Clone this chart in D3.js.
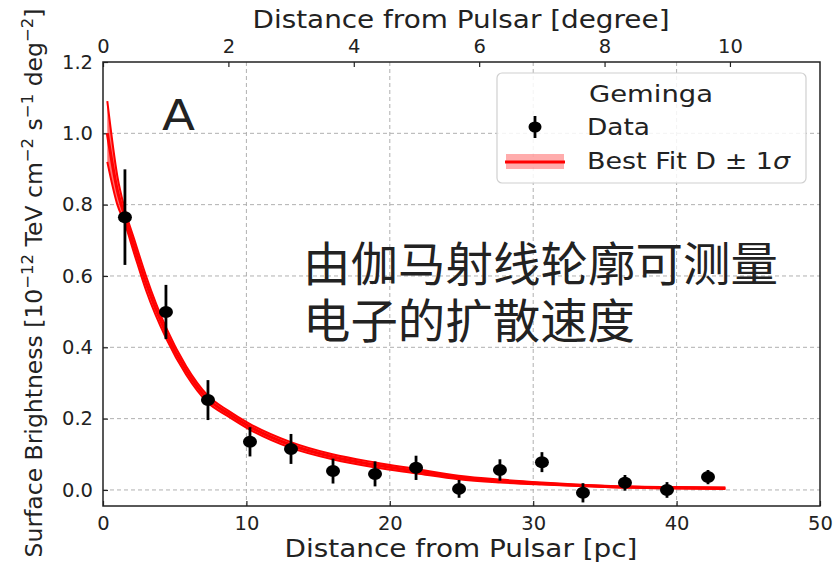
<!DOCTYPE html>
<html lang="en">
    <head>
        <meta charset="utf-8">
        <style>
            body { margin: 0; background: #fff; }
            text { font-family: "DejaVu Sans", sans-serif; fill: #222; }
            .grid line { stroke: #b0b0b0; stroke-dasharray: 4,3; stroke-width: 1; }
        </style>
        <script src="https://d3js.org/d3.v7.min.js"></script>
        <title>Geminga</title>
    </head>
    <body>
        <div id="chart"></div>
        <script>
            // data points: distance [pc], surface brightness, 1 sigma error
            var dataX   = [1.53, 4.39, 7.32, 10.25, 13.11, 16.04, 18.97, 21.83, 24.83, 27.68, 30.61, 33.47, 36.40, 39.33, 42.19];
            var dataY   = [0.765, 0.499, 0.252, 0.135, 0.115, 0.053, 0.045, 0.062, 0.003, 0.056, 0.078, -0.008, 0.020, 0.000, 0.036];
            var dataErr = [0.134, 0.076, 0.056, 0.041, 0.042, 0.035, 0.035, 0.034, 0.025, 0.030, 0.028, 0.027, 0.022, 0.022, 0.020];

            // best fit curve and 1 sigma band
            var fitX  = [0.3, 1.0, 1.5, 2.2, 3.0, 4.4, 5.8, 7.3, 8.7, 10.2, 13.1, 16.0, 19.0, 21.8, 24.8, 27.7, 30.6, 35.0, 40.0, 43.4];
            var fitY  = [1.00, 0.84, 0.77, 0.68, 0.58, 0.44, 0.335, 0.255, 0.215, 0.178, 0.126, 0.093, 0.070, 0.053, 0.035, 0.025, 0.018, 0.010, 0.006, 0.005];
            var fitHi = [1.09, 0.88, 0.79, 0.70, 0.60, 0.455, 0.347, 0.265, 0.223, 0.186, 0.134, 0.100, 0.077, 0.059, 0.040, 0.029, 0.021, 0.012, 0.008, 0.007];
            var fitLo = [0.92, 0.80, 0.75, 0.66, 0.56, 0.425, 0.323, 0.245, 0.207, 0.170, 0.118, 0.086, 0.063, 0.047, 0.030, 0.021, 0.015, 0.008, 0.004, 0.003];

            var xTicks = [0, 10, 20, 30, 40, 50];
            var yTicks = [0, 0.2, 0.4, 0.6, 0.8, 1.0, 1.2];
            var degTicks = [0, 2, 4, 6, 8, 10];
            var pcPerDeg = 4.372;

            var margin = {top: 62, right: 15, bottom: 59, left: 103},
                width = 835 - margin.left - margin.right,
                height = 565 - margin.top - margin.bottom;

            var svg = d3.select("#chart")
                .append("svg")
                    .attr("width", 835)
                    .attr("height", 565)
                .append("g")
                    .attr("transform", "translate(" + margin.left + "," + margin.top + ")");

            var x = d3.scaleLinear().domain([0, 50]).range([0, width]);
            var xDeg = d3.scaleLinear().domain([0, 50 / pcPerDeg]).range([0, width]);
            var y = d3.scaleLinear().domain([-0.045, 1.2]).range([height, 0]);

            // grid
            svg.append("g").attr("class", "grid")
                .selectAll("line").data([10, 20, 30, 40]).enter().append("line")
                    .attr("x1", d => x(d)).attr("x2", d => x(d))
                    .attr("y1", 0).attr("y2", height);
            svg.append("g").attr("class", "grid")
                .selectAll("line").data([0, 0.2, 0.4, 0.6, 0.8, 1.0]).enter().append("line")
                    .attr("x1", 0).attr("x2", width)
                    .attr("y1", d => y(d)).attr("y2", d => y(d));

            // axes
            var xAxis = svg.append("g")
                .attr("transform", "translate(0," + height + ")")
                .call(d3.axisBottom(x).tickValues(xTicks).tickSizeInner(-5).tickSizeOuter(0).tickPadding(10));
            var yAxis = svg.append("g")
                .call(d3.axisLeft(y).tickValues(yTicks).tickFormat(d3.format(".1f")).tickSizeInner(-5).tickSizeOuter(0).tickPadding(10));
            var topAxis = svg.append("g")
                .call(d3.axisTop(xDeg).tickValues(degTicks).tickSizeInner(-5).tickSizeOuter(0).tickPadding(9));

            [xAxis, yAxis, topAxis].forEach(function(a) {
                a.selectAll("text").style("font-size", "19.5px").attr("fill", "#222");
                a.selectAll("line").attr("stroke", "#222").attr("stroke-width", 1.2);
                a.select(".domain").remove();
            });

            svg.append("rect")
                .attr("x", 0).attr("y", 0)
                .attr("width", width).attr("height", height)
                .attr("fill", "none").attr("stroke", "#222").attr("stroke-width", 1.5);

            // fit band
            var pts = fitX.map((d, i) => ({x: d, y: fitY[i], hi: fitHi[i], lo: fitLo[i]}));
            svg.append("path")
                .datum(pts)
                .attr("fill", "#ff3030")
                .attr("fill-opacity", 0.7)
                .attr("d", d3.area().curve(d3.curveMonotoneX)
                    .x(d => x(d.x)).y0(d => y(d.lo)).y1(d => y(d.hi)));
            ["hi", "lo"].forEach(function(k) {
                svg.append("path")
                    .datum(pts)
                    .attr("fill", "none")
                    .attr("stroke", "#ff0000")
                    .attr("stroke-width", 2)
                    .attr("d", d3.line().curve(d3.curveMonotoneX).x(d => x(d.x)).y(d => y(d[k])));
            });
            svg.append("path")
                .datum(pts)
                .attr("fill", "none")
                .attr("stroke", "#ff0000")
                .attr("stroke-width", 3)
                .attr("d", d3.line().curve(d3.curveMonotoneX).x(d => x(d.x)).y(d => y(d.y)));

            // data points with error bars
            var data = dataX.map((d, i) => ({x: d, y: dataY[i], e: dataErr[i]}));
            svg.selectAll(".err")
                .data(data).enter().append("line")
                    .attr("class", "err")
                    .attr("x1", d => x(d.x)).attr("x2", d => x(d.x))
                    .attr("y1", d => y(d.y - d.e)).attr("y2", d => y(d.y + d.e))
                    .attr("stroke", "#000").attr("stroke-width", 2.8);
            svg.selectAll(".pt")
                .data(data).enter().append("ellipse")
                    .attr("class", "pt")
                    .attr("cx", d => x(d.x)).attr("cy", d => y(d.y))
                    .attr("rx", 7).attr("ry", 6)
                    .attr("fill", "#000");

            // panel label
            svg.append("text")
                .attr("x", 59).attr("y", 68)
                .attr("textLength", 33).attr("lengthAdjust", "spacingAndGlyphs")
                .style("font-size", "42px").attr("fill", "#111")
                .text("A");

            // legend
            var lg = svg.append("g").attr("transform", "translate(394,11)");
            lg.append("rect")
                .attr("width", 309).attr("height", 110).attr("rx", 5)
                .attr("fill", "#fff").attr("fill-opacity", 0.85)
                .attr("stroke", "#d0d0d0").attr("stroke-width", 1.2);
            lg.append("text").attr("x", 92).attr("y", 29)
                .attr("textLength", 124).attr("lengthAdjust", "spacingAndGlyphs")
                .style("font-size", "23px").text("Geminga");
            lg.append("line").attr("x1", 38).attr("x2", 38).attr("y1", 43).attr("y2", 65)
                .attr("stroke", "#000").attr("stroke-width", 2.8);
            lg.append("ellipse").attr("cx", 38).attr("cy", 54).attr("rx", 6.5).attr("ry", 5.5).attr("fill", "#000");
            lg.append("text").attr("x", 90).attr("y", 62)
                .attr("textLength", 63).attr("lengthAdjust", "spacingAndGlyphs")
                .style("font-size", "23px").text("Data");
            lg.append("rect").attr("x", 9).attr("y", 81).attr("width", 58).attr("height", 15)
                .attr("fill", "#ff3030").attr("fill-opacity", 0.4);
            lg.append("line").attr("x1", 8).attr("x2", 68).attr("y1", 89).attr("y2", 89)
                .attr("stroke", "#ff0000").attr("stroke-width", 3);
            var bf = lg.append("text").attr("x", 90).attr("y", 96)
                .attr("textLength", 203).attr("lengthAdjust", "spacingAndGlyphs")
                .style("font-size", "23px");
            bf.append("tspan").text("Best Fit D \u00b1 1");
            bf.append("tspan").style("font-style", "italic").text("\u03c3");

            // axis titles
            svg.append("text")
                .attr("x", 461 - margin.left).attr("y", height + 51)
                .attr("text-anchor", "middle")
                .attr("textLength", 353).attr("lengthAdjust", "spacingAndGlyphs")
                .style("font-size", "24px")
                .text("Distance from Pulsar [pc]");
            svg.append("text")
                .attr("x", 461 - margin.left).attr("y", -34)
                .attr("text-anchor", "middle")
                .attr("textLength", 417).attr("lengthAdjust", "spacingAndGlyphs")
                .style("font-size", "24px")
                .text("Distance from Pulsar [degree]");

            var yl = svg.append("text")
                .attr("transform", "translate(-61," + (283 - margin.top) + ") rotate(-90)")
                .attr("text-anchor", "middle").style("font-size", "23.5px");
            yl.append("tspan").text("Surface Brightness [10");
            yl.append("tspan").attr("dy", -9).style("font-size", "16.5px").text("\u221212");
            yl.append("tspan").attr("dy", 9).text(" TeV cm");
            yl.append("tspan").attr("dy", -9).style("font-size", "16.5px").text("\u22122");
            yl.append("tspan").attr("dy", 9).text(" s");
            yl.append("tspan").attr("dy", -9).style("font-size", "16.5px").text("\u22121");
            yl.append("tspan").attr("dy", 9).text(" deg");
            yl.append("tspan").attr("dy", -9).style("font-size", "16.5px").text("\u22122");
            yl.append("tspan").attr("dy", 9).text("]");

            // annotation
            var note = svg.append("text")
                .style("font-family", "'Noto Sans CJK SC', sans-serif")
                .style("font-size", "47px").attr("fill", "#000");
            note.append("tspan").attr("x", 200).attr("y", 219)
                .attr("textLength", 475).attr("lengthAdjust", "spacingAndGlyphs")
                .text("由伽马射线轮廓可测量");
            note.append("tspan").attr("x", 200).attr("y", 276)
                .attr("textLength", 332).attr("lengthAdjust", "spacingAndGlyphs")
                .text("电子的扩散速度");
        </script>
    </body>
</html>
